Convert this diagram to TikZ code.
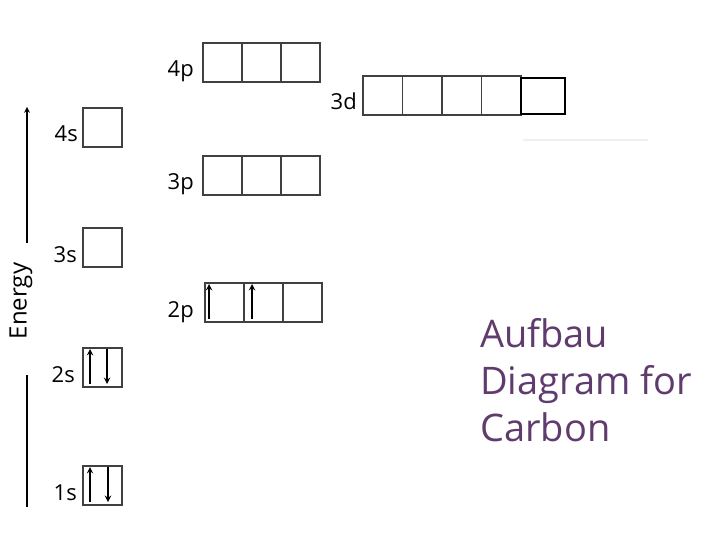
\documentclass[tikz,border=0pt]{standalone}
\usepackage{fontspec}
\setmainfont{Open Sans}
\definecolor{titlepurple}{RGB}{96,60,110}
\tikzset{
	orb/.style={draw=black!75,line width=1.4pt,minimum size=39pt,inner sep=0pt,outer sep=0pt},
	lbl/.style={anchor=base east,inner sep=0pt,font=\fontsize{22}{26}\selectfont},
	spin/.style={->,line width=1.8pt},
}
\newcommand\elup[2]{\draw[spin] ([xshift=#2pt,yshift=3pt]#1.south west) -- ([xshift=#2pt,yshift=-1pt]#1.north west);}
\newcommand\eldown[2]{\draw[spin] ([xshift=#2pt,yshift=-1pt]#1.north west) -- ([xshift=#2pt,yshift=3pt]#1.south west);}
\begin{document}
\begin{tikzpicture}[>=stealth,x=1pt,y=-1pt]
	\useasboundingbox (0,0) rectangle (720,540);
	% Trục năng lượng
	\node[rotate=90,inner sep=0pt,font=\fontsize{24}{28}\selectfont] (energy) at (21,301) {Energy};
	\coordinate (etop) at (27,107);
	\coordinate (emid) at (27,243);
	\coordinate (elow) at (27,375);
	\coordinate (ebot) at (27,507);
	\draw[->,line width=1.5pt] (emid) -- (etop);
	\draw[line width=1.5pt] (elow) -- (ebot);
	% Các ô orbital s
	\node[orb] (o1s) at (102.5,485.5) {};
	\node[orb] (o2s) at (102.5,367.5) {};
	\node[orb] (o3s) at (102.5,247.5) {};
	\node[orb] (o4s) at (102.5,127.5) {};
	% Các ô orbital p
	\foreach \i in {1,2,3} {
		\node[orb] (o2p\i) at ({224.5+39*(\i-1)},302.5) {};
		\node[orb] (o3p\i) at ({222.5+39*(\i-1)},175.5) {};
		\node[orb] (o4p\i) at ({222.5+39*(\i-1)},62.5) {};
	}
	% Các ô orbital d
	\foreach \i in {1,...,4} \node[orb,minimum width=39.5pt] (o3d\i) at ({382.75+39.5*(\i-1)},95.5) {};
	\node[draw=black,line width=1.2pt,minimum width=44pt,minimum height=36pt,inner sep=0pt] (o3d5) at (543,96) {};
	\draw[gray!12,line width=1.5pt] (523,140) -- (648,140);
	% Nhãn
	\node[lbl] (l1s) at ([xshift=-6pt,yshift=5pt]o1s.south west) {1s};
	\node[lbl] (l2s) at ([xshift=-8pt,yshift=5pt]o2s.south west) {2s};
	\node[lbl] (l3s) at ([xshift=-6pt,yshift=5pt]o3s.south west) {3s};
	\node[lbl] (l4s) at ([xshift=-5pt,yshift=5pt]o4s.south west) {4s};
	\node[lbl] (l2p) at ([xshift=-11pt,yshift=5pt]o2p1.south west) {2p};
	\node[lbl] (l3p) at ([xshift=-9pt,yshift=5pt]o3p1.south west) {3p};
	\node[lbl] (l4p) at ([xshift=-9pt,yshift=5pt]o4p1.south west) {4p};
	\node[lbl] (l3d) at ([xshift=-6pt,yshift=5pt]o3d1.south west) {3d};
	% Electron
	\elup{o1s}{7} \eldown{o1s}{25}
	\elup{o2s}{7} \eldown{o2s}{24}
	\elup{o2p1}{4} \elup{o2p2}{8}
	% Tiêu đề
	\node[anchor=north west,inner sep=0pt,align=left,text=titlepurple,font=\fontsize{38}{47}\selectfont] (title) at (480,318) {Aufbau\\Diagram for\\Carbon};
\end{tikzpicture}
\end{document}
